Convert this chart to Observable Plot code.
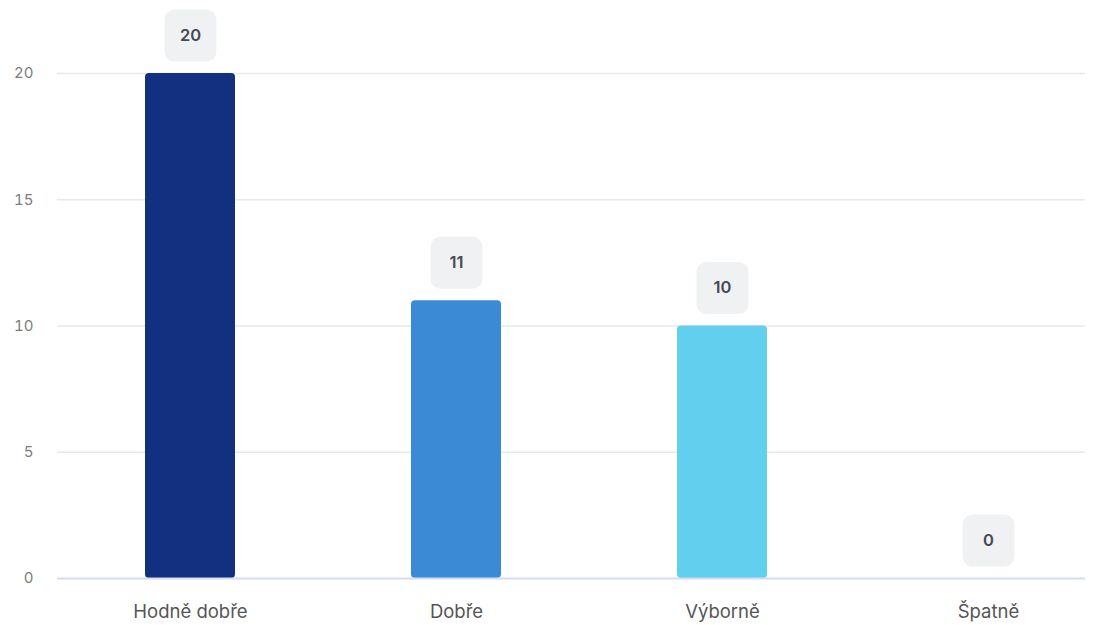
<!DOCTYPE html>
<html>
<head>
<meta charset="utf-8">
<script src="https://cdn.jsdelivr.net/npm/d3@7"></script>
<script src="https://cdn.jsdelivr.net/npm/@observablehq/plot@0.6"></script>
<style>
  html, body { margin: 0; padding: 0; background: #fff; }
  #chart svg { display: block; overflow: visible; }
</style>
</head>
<body>
<div id="chart"></div>
<script>
const categories = ["Hodně dobře", "Dobře", "Výborně", "Špatně"];
const values = [20, 11, 10, 0];
const colors = ["#12307f", "#3a8ad6", "#62cfee", "#8fa3c8"];
const yTicks = [0, 5, 10, 15, 20];

const data = categories.map((c, i) => ({category: c, value: values[i], color: colors[i]}));

const W = 1098, H = 625;

// rounded square symbol for value badges
const badge = {
  draw(context, size) {
    const h = 26, r = 10;
    context.moveTo(-h + r, -h);
    context.lineTo(h - r, -h);
    context.arcTo(h, -h, h, -h + r, r);
    context.lineTo(h, h - r);
    context.arcTo(h, h, h - r, h, r);
    context.lineTo(-h + r, h);
    context.arcTo(-h, h, -h, h - r, r);
    context.lineTo(-h, -h + r);
    context.arcTo(-h, -h, -h + r, -h, r);
    context.closePath();
  }
};

const chart = Plot.plot({
  width: W,
  height: H,
  marginLeft: 57,
  marginRight: 13,
  marginTop: 73,
  marginBottom: 47,
  style: {fontFamily: "Inter, 'Noto Sans', sans-serif", background: "#fff"},
  x: {domain: categories, range: [-33, 1211], padding: 0.6617, label: null},
  y: {domain: [0, 20], label: null},
  marks: [
    Plot.ruleY(yTicks.filter(d => d > 0), {stroke: "#e6e8ea", strokeWidth: 1.5}),
    Plot.barY(data, {x: "category", y: "value", fill: "color", rx: 4}),
    Plot.ruleY([0], {stroke: "#d5dcec", strokeWidth: 2}),
    Plot.dot(data, {x: "category", y: "value", dy: -38, symbol: badge, r: 10, fill: "#f0f1f2", stroke: null}),
    Plot.text(data, {x: "category", y: "value", dy: -38, text: d => String(d.value), fontSize: 16.5, fontWeight: 600, fill: "#444a56"}),
    Plot.axisY({ticks: yTicks, tickSize: 0, tickPadding: 24, fontSize: 15, color: "#7d7d7d", label: null}),
    Plot.axisX({tickSize: 0, tickPadding: 26, fontSize: 18.5, color: "#555", label: null})
  ]
});
document.getElementById("chart").appendChild(chart);
</script>
</body>
</html>
